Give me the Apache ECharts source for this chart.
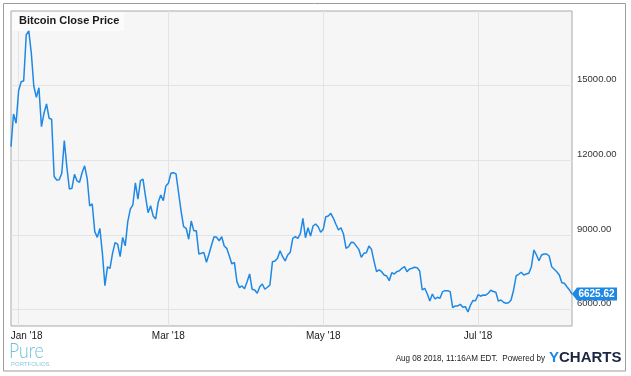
<!DOCTYPE html>
<html>
<head>
<meta charset="utf-8">
<script src="https://cdn.jsdelivr.net/npm/echarts@6/dist/echarts.min.js"></script>
<style>
  html, body { margin: 0; padding: 0; background: #fff; }
  #chart { width: 631px; height: 376px; }
</style>
</head>
<body>
<div id="chart"></div>
<script>
// daily closes, first point is 29 Dec 2017
const startDate = '2017-12-29';
const closes = [
  12540, 13850, 13480, 14780, 15140, 15180, 17020, 17180, 16290, 14950,
  14520, 14900, 13340, 13880, 14250, 13680, 13640, 11340, 11200, 11210,
  11470, 12780, 11730, 10840, 10870, 11430, 11170, 11110, 11490, 11770,
  11270, 10160, 10240, 9130, 8900, 9260, 8270, 6960, 7720, 7660,
  8260, 8690, 8630, 8125, 8900, 8560, 9530, 10030, 10200, 11090,
  10430, 11175, 11240, 10530, 9890, 10170, 9760, 9640, 10310, 10600,
  10370, 10960, 11070, 11470, 11495, 11445, 10700, 9950, 9330, 9265,
  8825, 9555, 9170, 9170, 8235, 8260, 8290, 7900, 8235, 8595,
  8925, 8905, 8765, 8925, 8555, 8460, 8155, 7835, 7900, 7125,
  6885, 6950, 6842, 7120, 7432, 6818, 6790, 6658, 6922, 7030,
  6818, 6898, 6990, 7925, 7953, 8061, 8366, 8125, 7953, 8193,
  8302, 8863, 8927, 8863, 9050, 9665, 8887, 9288, 8955, 9356,
  9437, 9328, 9104, 9224, 9729, 9757, 9866, 9665, 9424, 9196,
  9288, 9023, 8462, 8526, 8703, 8690, 8560, 8420, 8100, 8262,
  8286, 8554, 8422, 7950, 7524, 7592, 7524, 7392, 7351, 7163,
  7484, 7432, 7524, 7564, 7660, 7724, 7524, 7632, 7660, 7700,
  7684, 7552, 6790, 6858, 6630, 6349, 6630, 6429, 6497, 6457,
  6722, 6762, 6762, 6722, 6080, 6148, 6148, 6217, 6096, 6120,
  5908, 6180, 6370, 6355, 6600, 6540, 6590, 6580, 6660, 6780,
  6730, 6700, 6340, 6390, 6297, 6257, 6281, 6389, 6790, 7351,
  7420, 7500, 7392, 7432, 7460, 7724, 8394, 8193, 7965, 8193,
  8234, 8234, 8153, 7724, 7620, 7524, 7392, 7083, 7059, 6922,
  6790, 6625.62
];
const yTicks = [6000, 9000, 12000, 15000];
const xTicks = ['2018-01-01', '2018-03-01', '2018-05-01', '2018-07-01'];
const monthNames = ['Jan', 'Feb', 'Mar', 'Apr', 'May', 'Jun', 'Jul', 'Aug', 'Sep', 'Oct', 'Nov', 'Dec'];

const DAY = 24 * 3600 * 1000;
const t0 = Date.parse(startDate + 'T00:00:00Z');
const points = closes.map((v, i) => [t0 + i * DAY, v]);
const last = points[points.length - 1];
const xTickVals = xTicks.map(d => Date.parse(d + 'T00:00:00Z'));

const chart = echarts.init(document.getElementById('chart'));
const font = '"Liberation Sans", Arial, sans-serif';

chart.setOption({
  animation: false,
  backgroundColor: '#fff',
  grid: {
    left: 11, top: 11, right: 59, bottom: 50,
    show: true,
    backgroundColor: '#f6f6f6',
    borderColor: '#a9a9a9',
    borderWidth: 1
  },
  // timestamps on a plain value axis so the month ticks can be fixed
  xAxis: {
    type: 'value',
    min: points[0][0],
    max: last[0],
    axisLine: { show: false },
    axisTick: { show: false, customValues: xTickVals },
    splitLine: { show: true, lineStyle: { color: '#e3e3e3', width: 1 } },
    axisLabel: {
      customValues: xTickVals,
      margin: 5,
      fontSize: 10,
      color: '#1a1a1a',
      fontFamily: font,
      formatter: v => {
        const d = new Date(v);
        const s = monthNames[d.getUTCMonth()] + " '" + String(d.getUTCFullYear()).slice(2);
        return d.getUTCMonth() === 0 ? '{j|' + s + '}' : s;
      },
      rich: {
        j: { padding: [0, 0, 0, 16], fontSize: 10, color: '#1a1a1a', fontFamily: font }
      }
    }
  },
  yAxis: {
    type: 'value',
    position: 'right',
    min: 5345,
    max: 17980,
    axisLine: { show: false },
    axisTick: { show: false, customValues: yTicks },
    splitLine: { show: true, lineStyle: { color: '#e3e3e3', width: 1 } },
    axisLabel: {
      customValues: yTicks,
      margin: 5,
      fontSize: 9.5,
      color: '#333',
      fontFamily: font,
      verticalAlign: 'bottom',
      lineHeight: 12,
      formatter: v => v.toFixed(2)
    }
  },
  series: [{
    type: 'line',
    data: points,
    showSymbol: false,
    lineStyle: { color: '#1e88e5', width: 1.5 },
    itemStyle: { color: '#1e88e5' },
    markPoint: {
      silent: true,
      symbol: 'path://M0,6.5 L5,0 L45,0 L45,13 L5,13 Z',
      symbolSize: [45, 13],
      symbolKeepAspect: false,
      symbolOffset: ['50%', 0],
      itemStyle: { color: '#1e88e5' },
      label: {
        show: true,
        position: 'inside',
        offset: [2, 0],
        color: '#fff',
        fontWeight: 'bold',
        fontSize: 10,
        fontFamily: font,
        formatter: () => last[1].toFixed(2)
      },
      data: [{ coord: last }]
    }
  }],
  graphic: [
    {
      type: 'rect', z: 1, silent: true,
      shape: { x: 3.5, y: 3.5, width: 622, height: 367.5 },
      style: { fill: 'none', stroke: '#9c9c9c', lineWidth: 1 }
    },
    {
      type: 'rect', z: 1, silent: true,
      shape: { x: 12, y: 12, width: 112, height: 19 },
      style: { fill: '#fbfbfb' }
    },
    {
      type: 'text', z: 3, silent: true,
      style: {
        text: 'Bitcoin Close Price', x: 19, y: 20.5,
        verticalAlign: 'middle',
        font: 'bold 11px ' + font, fill: '#1a1a1a'
      }
    },
    {
      type: 'text', z: 3, silent: true,
      x: 9, y: 351, scaleX: 0.8,
      style: {
        text: 'Pure', x: 0, y: 0,
        verticalAlign: 'middle',
        font: '300 22px Lato, "Open Sans", sans-serif', fill: '#6cc0d7'
      }
    },
    {
      type: 'text', z: 3, silent: true,
      style: {
        text: 'PORTFOLIOS', x: 11, y: 364,
        verticalAlign: 'middle',
        font: '6px ' + font, fill: '#86cbe0'
      }
    },
    {
      type: 'text', z: 3, silent: true,
      x: 545, y: 359, scaleX: 0.9,
      style: {
        text: 'Aug 08 2018, 11:16AM EDT.  Powered by', x: 0, y: 0,
        align: 'right', verticalAlign: 'middle',
        font: '9px ' + font, fill: '#222'
      }
    },
    {
      type: 'text', z: 3, silent: true,
      style: {
        text: '{y|Y}{c|CHARTS}', x: 549, y: 358,
        verticalAlign: 'middle',
        rich: {
          y: { font: 'bold 15px ' + font, fill: '#1e88e5' },
          c: { font: 'bold 15px ' + font, fill: '#1c2642' }
        }
      }
    }
  ]
});
</script>
</body>
</html>
